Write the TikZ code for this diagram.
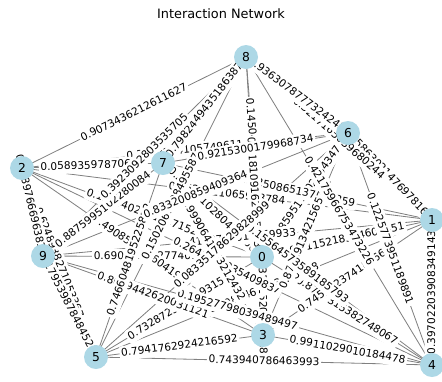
\documentclass[tikz,border=0pt]{standalone}
\usepackage{fontspec}
\setmainfont{DejaVu Sans}
\tikzset{>=latex}
\definecolor{nodeblue}{HTML}{ADD8E6}
\definecolor{edgegray}{HTML}{808080}
\pgfdeclarelayer{edges}
\pgfdeclarelayer{labels}
\pgfsetlayers{edges,labels,main}
\tikzset{
  vertex/.style={circle,fill=nodeblue,minimum size=0.72cm,inner sep=0pt,
    font=\fontsize{10.5}{12}\selectfont},
  link/.style={draw=edgegray,line width=0.7pt},
  weight/.style={sloped,fill=white,rounded corners=2pt,inner sep=1.5pt,
    text height=0.75em,text depth=0.2em,font=\fontsize{9}{10}\selectfont},
}
% pairs in drawing order, with their weights
\def\edgelist{0/1/0.2115218374602451,0/2/0.1934402861037152,0/3/0.6423187520946318,
  0/4/0.8740315382748067,0/5/0.7328723461193157,0/6/0.2859517102964347,
  0/7/0.2875010280457766,0/8/0.1450427181091643,0/9/0.6904518327740115,
  1/2/0.1629321065928784,1/3/0.7451923741856602,4/1/0.39702203908349143,
  1/5/0.2981467203915558,1/6/0.5863021476978163,1/7/0.5250865137416359,
  1/8/0.3217165039680244,1/9/0.4182706513659933,2/3/0.4908571326041999,
  2/4/0.2641936235409837,2/5/0.6248938271053367,2/6/0.3958224105749611,
  2/7/0.05893597870654,2/8/0.9073436212611627,2/9/0.5689766696381472,
  3/4/0.9911029010184478,3/5/0.7941762924216592,3/6/0.8752913421565781,
  3/7/0.9990641563212432,3/8/0.5181091627453338,3/9/0.8619442620031121,
  4/5/0.743940786463993,4/6/0.1225773951189891,4/7/0.15564573589185793,
  4/8/0.42175966753473226,4/9/0.19527798039489497,5/6/0.08335178629828999,
  5/7/0.7466048195225812,5/8/0.1502067138495587,5/9/0.1795398784845213,
  6/7/0.9215300179968734,6/8/0.9363078777324245,6/9/0.833200859409364,
  7/8/0.7982449435186387,7/9/0.8875995102280084,8/9/0.3923092803535705}

\begin{document}
\begin{tikzpicture}[x=0.03cm,y=-0.03cm]
  \useasboundingbox (0,0) rectangle (442,381);
  % title
  \node[font=\fontsize{11}{13}\selectfont] (title) at (221,14) {Interaction Network};
  % nodes
  \foreach \n/\X/\Y in {0/262/257,1/432/220,2/22/168,3/263/335,4/432/365,
                         5/96/357,6/348/133,7/163/163,8/246/57,9/43/256}
    \node[vertex] (n\n) at (\X,\Y) {\n};
  % edges
  \begin{pgfonlayer}{edges}
    \foreach \a/\b/\w in \edgelist
      \draw[link] (n\a.center) -- (n\b.center);
  \end{pgfonlayer}
  % weights
  \begin{pgfonlayer}{labels}
    \foreach \a/\b/\w in \edgelist
      \path (n\a.center) -- node[weight] {\w} (n\b.center);
  \end{pgfonlayer}
\end{tikzpicture}
\end{document}
